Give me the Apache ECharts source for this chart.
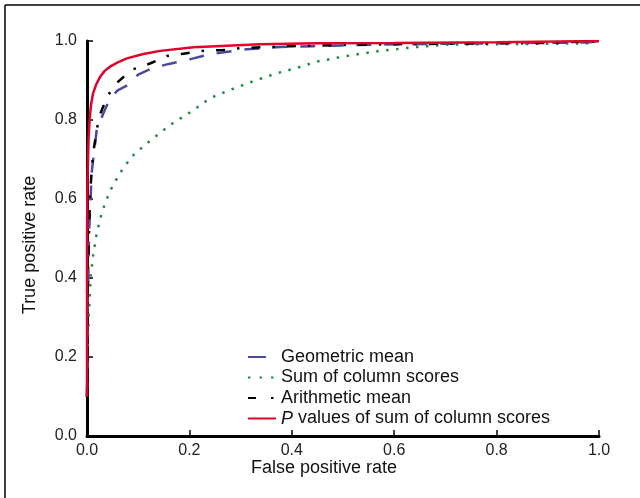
<!DOCTYPE html>
<html>
<head>
<meta charset="utf-8">
<script src="https://cdn.jsdelivr.net/npm/echarts@6/dist/echarts.min.js"></script>
<style>
  html, body { margin: 0; padding: 0; background: #fff; }
  #chart { width: 640px; height: 498px; }
</style>
</head>
<body>
<div id="chart"></div>
<script>
// ROC curves: [false positive rate, true positive rate]
const geometricMean = [
  [0, 0.1], [0.001, 0.2], [0.001, 0.3], [0.003, 0.43], [0.004, 0.51], [0.007, 0.6],
  [0.009, 0.665], [0.012, 0.7], [0.019, 0.775], [0.032, 0.817], [0.045, 0.855],
  [0.06, 0.875], [0.075, 0.885], [0.08, 0.89], [0.087, 0.9], [0.1, 0.915],
  [0.129, 0.932], [0.16, 0.942], [0.195, 0.952], [0.246, 0.968], [0.312, 0.979],
  [0.377, 0.985], [0.441, 0.987], [0.507, 0.989], [0.572, 0.991], [0.7, 0.993],
  [0.85, 0.995], [0.977, 0.996], [1.0, 1.0]
]
const sumColumnScores = [
  [0, 0.1], [0.001, 0.218], [0.003, 0.286], [0.005, 0.344], [0.007, 0.403],
  [0.012, 0.458], [0.019, 0.513], [0.029, 0.566], [0.044, 0.618], [0.064, 0.665],
  [0.087, 0.707], [0.117, 0.741], [0.162, 0.787], [0.208, 0.825], [0.24, 0.855],
  [0.279, 0.876], [0.331, 0.901], [0.37, 0.918], [0.41, 0.932], [0.449, 0.948],
  [0.507, 0.962], [0.572, 0.975], [0.637, 0.984], [0.703, 0.991], [0.8, 0.992],
  [0.9, 0.993], [0.976, 0.994], [1.0, 1.0]
]
const arithmeticMean = [
  [0, 0.1], [0.001, 0.2], [0.001, 0.36], [0.003, 0.47], [0.006, 0.615], [0.009, 0.667],
  [0.012, 0.716], [0.019, 0.775], [0.025, 0.813], [0.041, 0.863], [0.061, 0.897],
  [0.087, 0.927], [0.123, 0.943], [0.156, 0.962], [0.188, 0.968], [0.227, 0.975],
  [0.266, 0.977], [0.3, 0.982], [0.4, 0.987], [0.5, 0.99], [0.6, 0.992],
  [0.8, 0.994], [0.9, 0.995], [1.0, 1.0]
]
const pValues = [
  [0, 0.1], [0, 0.5], [0.001, 0.65], [0.003, 0.75], [0.005, 0.8], [0.008, 0.84],
  [0.012, 0.868], [0.018, 0.89], [0.025, 0.908], [0.035, 0.925], [0.045, 0.935],
  [0.06, 0.946], [0.078, 0.956], [0.11, 0.967], [0.143, 0.975], [0.208, 0.984],
  [0.273, 0.988], [0.338, 0.992], [0.45, 0.994], [0.6, 0.995], [0.8, 0.997], [1.0, 1.0]
]

const names = [
  'Geometric mean',
  'Sum of column scores',
  'Arithmetic mean',
  'P values of sum of column scores'
]
const font = 'Liberation Sans, Arial, sans-serif'

const chart = echarts.init(document.getElementById('chart'))

const axisCommon = {
  type: 'value',
  min: 0,
  max: 1,
  interval: 0.2,
  splitLine: { show: false },
  axisLine: { lineStyle: { color: '#000', width: 3 } },
  axisTick: { inside: true, length: 6, lineStyle: { color: '#000', width: 1.5 } },
  axisLabel: {
    color: '#222',
    fontFamily: font,
    fontSize: 16,
    formatter: v => v.toFixed(1)
  }
}

chart.setOption({
  animation: false,
  grid: { left: 87, right: 41, top: 41, bottom: 62 },
  xAxis: {
    ...axisCommon,
    axisLabel: { ...axisCommon.axisLabel, margin: 7 }
  },
  yAxis: {
    ...axisCommon,
    axisLabel: { ...axisCommon.axisLabel, margin: 10 }
  },
  legend: {
    orient: 'vertical',
    left: 247,
    top: 348,
    padding: 0,
    itemWidth: 28,
    itemHeight: 10,
    itemGap: 2.5,
    itemStyle: { opacity: 0 },
    textStyle: {
      color: '#111',
      fontFamily: font,
      fontSize: 18,
      lineHeight: 18,
      rich: { i: { fontStyle: 'italic', fontFamily: font, fontSize: 18 } }
    },
    formatter: name => name.charAt(0) === 'P' ? '{i|P}' + name.slice(1) : name,
    data: [
      { name: names[0], lineStyle: { type: [18, 20] } },
      { name: names[1], lineStyle: { type: [2.5, 9] } },
      { name: names[2], lineStyle: { type: [8, 15, 2.5, 10] } },
      { name: names[3] }
    ]
  },
  series: [
    {
      name: names[1],
      type: 'line',
      data: sumColumnScores,
      symbol: 'none',
      lineStyle: { color: '#1f8a45', width: 2.5, type: [2.5, 7.5] },
      itemStyle: { color: '#1f8a45' }
    },
    {
      name: names[0],
      type: 'line',
      data: geometricMean,
      symbol: 'none',
      lineStyle: { color: '#4a4a9c', width: 2.5, type: [15, 13] },
      itemStyle: { color: '#4a4a9c' }
    },
    {
      name: names[2],
      type: 'line',
      data: arithmeticMean,
      symbol: 'none',
      lineStyle: { color: '#000', width: 2.5, type: [9, 12, 2.5, 12] },
      itemStyle: { color: '#000' }
    },
    {
      name: names[3],
      type: 'line',
      data: pValues,
      symbol: 'none',
      lineStyle: { color: '#e0002a', width: 2.5 },
      itemStyle: { color: '#e0002a' }
    }
  ],
  graphic: [
    // frame lines on top and left
    { type: 'line', shape: { x1: 5, y1: 5, x2: 640, y2: 5 }, style: { stroke: '#000', lineWidth: 1.5 } },
    { type: 'line', shape: { x1: 5, y1: 5, x2: 5, y2: 498 }, style: { stroke: '#000', lineWidth: 1.5 } },
    {
      type: 'text',
      x: 324,
      y: 468,
      style: {
        text: 'False positive rate',
        fill: '#111',
        font: '18px ' + font,
        align: 'center',
        verticalAlign: 'middle'
      }
    },
    {
      type: 'text',
      x: 30,
      y: 245,
      rotation: Math.PI / 2,
      style: {
        text: 'True positive rate',
        fill: '#111',
        font: '18px ' + font,
        align: 'center',
        verticalAlign: 'middle'
      }
    }
  ]
})
</script>
</body>
</html>
